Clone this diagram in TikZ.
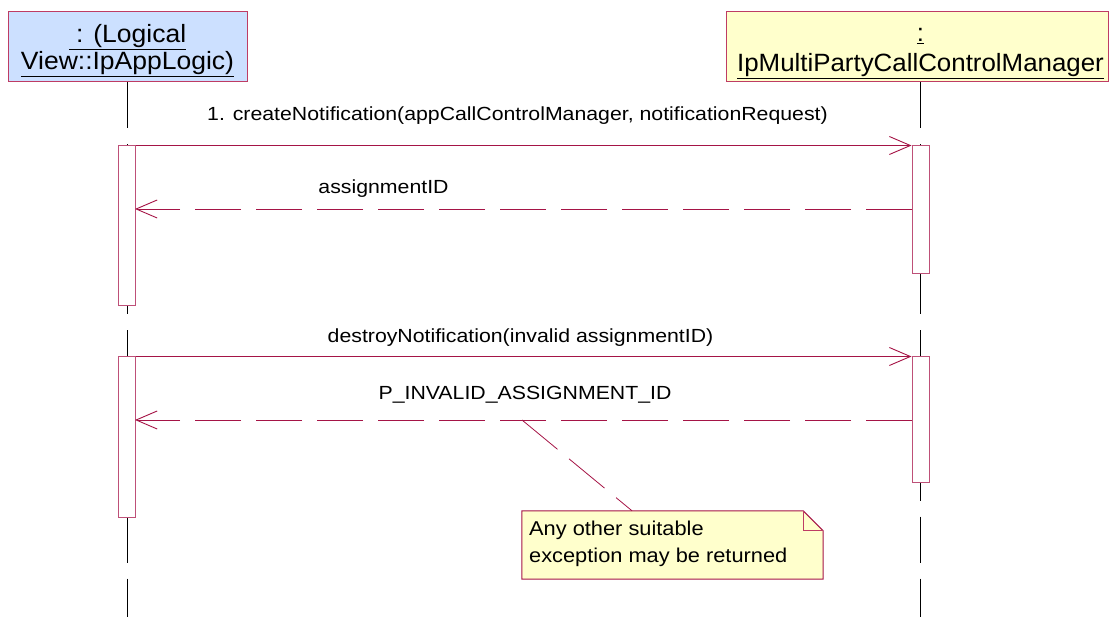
\documentclass[tikz,border=0pt]{standalone}
\usepackage{fontspec}
\setmainfont{Liberation Sans}
\newfontfamily\hdrfont[FakeStretch=1.06]{Liberation Sans}
\newfontfamily\hdrfontb[FakeStretch=1.035]{Liberation Sans}
\newfontfamily\msgfont[FakeStretch=1.12]{Liberation Sans}
\newfontfamily\notefont[FakeStretch=1.09]{Liberation Sans}
\usetikzlibrary{arrows.meta}
\definecolor{roseline}{RGB}{165,20,70}
\definecolor{roseborder}{RGB}{190,60,100}
\definecolor{actborder}{RGB}{190,80,120}
\definecolor{hdrblue}{RGB}{204,224,255}
\definecolor{hdryellow}{RGB}{255,255,204}
\begin{document}
\begin{tikzpicture}[x=1pt,y=-1pt,
  objbox/.style={draw=roseborder, line width=1pt, inner sep=0pt},
  hdrtext/.style={inner sep=0pt, anchor=base, font=\hdrfont\fontsize{25}{27}\selectfont},
  hdrtextb/.style={inner sep=0pt, anchor=base, font=\hdrfontb\fontsize{25}{27}\selectfont},
  msgtext/.style={inner sep=0pt, anchor=base, font=\msgfont\fontsize{19}{22}\selectfont},
  notetext/.style={inner sep=0pt, anchor=base west, font=\notefont\fontsize{20}{27}\selectfont},
  lifeline/.style={draw=black, line width=1pt, dash pattern=on 46pt off 16pt},
  actbox/.style={draw=actborder, fill=white, line width=1pt, minimum width=17pt, inner sep=0pt},
  msg/.style={draw=roseline, line width=0.9pt, -{Straight Barb[length=21pt,width=18pt,line width=0.9pt]}},
  ret/.style={msg, dash pattern=on 46pt off 15pt},
  noteline/.style={draw=roseline, line width=0.8pt, dash pattern=on 46pt off 15pt}]
\useasboundingbox (0,0) rectangle (1109,617);

% headers
\node[objbox, fill=hdrblue, minimum width=239pt, minimum height=70pt] (app) at (127.5,47) {};
\node[hdrtext] (appl1) at (127.5,43) {\underline{\ : (Logical}};
\node[hdrtext] (appl2) at (127.5,70) {\underline{View::IpAppLogic)}};

\node[objbox, fill=hdryellow, minimum width=382pt, minimum height=70pt] (mgr) at (917,47) {};
\node[hdrtextb] (mgrl1) at (920.5,42) {\underline{:}};
\node[hdrtextb] (mgrl2) at (920.5,72) {\underline{IpMultiPartyCallControlManager}};

% lifelines
\coordinate (append) at (127,617);
\coordinate (mgrend) at (920,617);
\draw[lifeline] (app.south -| append) -- (append);
\draw[lifeline] (mgr.south -| mgrend) -- (mgrend);

% activations
\node[actbox, minimum height=160pt] (a1) at (126.5,226) {};
\node[actbox, minimum height=128pt] (b1) at (920.5,210) {};
\node[actbox, minimum height=160pt] (a2) at (126.5,437) {};
\node[actbox, minimum height=126pt] (b2) at (920.5,420) {};

% messages
\draw[msg] (a1.north east) -- (b1.north west);
\node[msgtext] (m1) at (517.5,121) {1. createNotification(appCallControlManager, notificationRequest)};

\coordinate (r1s) at (912,209);
\coordinate (r1e) at (135,209);
\draw[ret] (r1s) -- (r1e);
\node[msgtext] (m2) at (383.5,194) {assignmentID};

\draw[msg] (a2.north east) -- (b2.north west);
\node[msgtext] (m3) at (520.5,343) {destroyNotification(invalid assignmentID)};

\coordinate (r2s) at (912,420);
\coordinate (r2e) at (135,420);
\draw[ret] (r2s) -- (r2e);
\node[msgtext] (m4) at (525,400) {P\_INVALID\_ASSIGNMENT\_ID};

% note
\node[minimum width=301pt, minimum height=68pt, inner sep=0pt] (note) at (672.5,545) {};
\fill[hdryellow] (note.north west) -- ([xshift=-20pt]note.north east) -- ([yshift=-20pt]note.north east) -- (note.south east) -- (note.south west) -- cycle;
\draw[roseline, line width=1pt] (note.north west) -- ([xshift=-20pt]note.north east) -- ([yshift=-20pt]note.north east) -- (note.south east) -- (note.south west) -- cycle;
\draw[roseborder, line width=1pt] ([xshift=-20pt]note.north east) |- ([yshift=-20pt]note.north east);
\node[notetext] (n1) at (529,535) {Any other suitable};
\node[notetext] (n2) at (529,562) {exception may be returned};

\coordinate (nc) at (522,420);
\draw[noteline] (nc) -- ([xshift=-40.5pt]note.north);
\end{tikzpicture}
\end{document}
